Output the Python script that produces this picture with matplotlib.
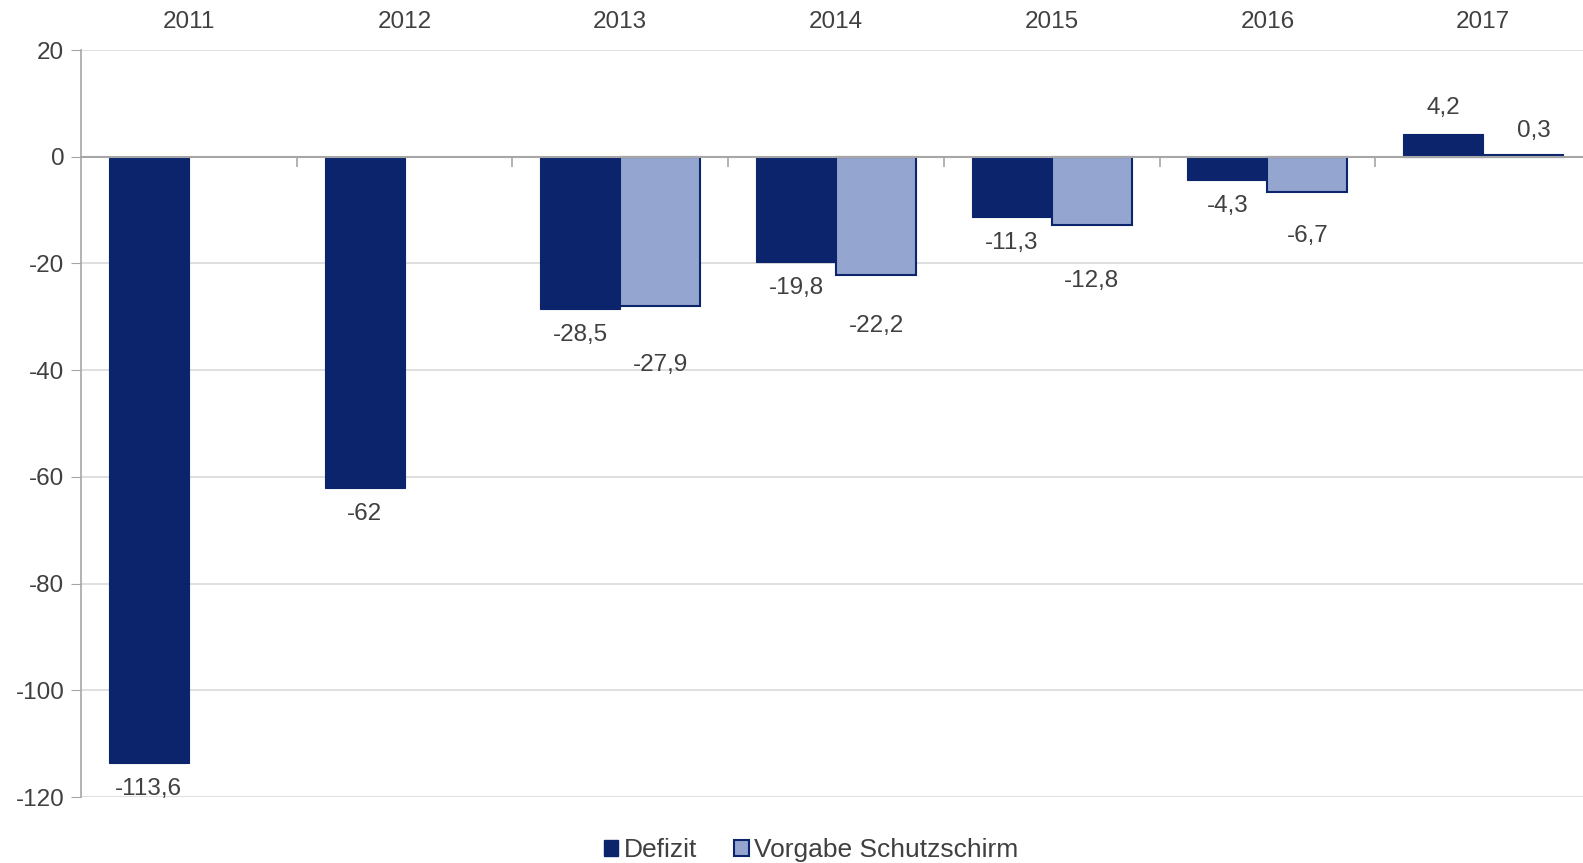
import matplotlib
matplotlib.use("Agg")
import matplotlib.pyplot as plt
import numpy as np
from matplotlib.patches import Patch

years = ["2011", "2012", "2013", "2014", "2015", "2016", "2017"]
defizit = [-113.6, -62.0, -28.5, -19.8, -11.3, -4.3, 4.2]
vorgabe = [None, None, -27.9, -22.2, -12.8, -6.7, 0.3]
# label offsets (pixels) beyond bar end for Vorgabe labels
vorgabe_label_offset = [0, 0, 59, 51, 56, 44, 24]

plt.rcParams['font.family'] = ['Liberation Sans', 'DejaVu Sans']
plt.rcParams['axes.unicode_minus'] = False
DARK = "#0B246B"
LIGHT = "#94A5CF"
TXT = "#404040"

W, H = 1583, 863
fig = plt.figure(figsize=(W / 100, H / 100), dpi=100)
left, right, top, bottom = 81, 1591, 50, 797
ax = fig.add_axes([left / W, 1 - bottom / H, (right - left) / W, (bottom - top) / H])

x = np.arange(len(years))
bw = 0.371
dv = np.array(defizit)
ax.bar(x - bw / 2, dv, width=bw, color=DARK, edgecolor=DARK, linewidth=0.8, zorder=2)
vx = [i for i, v in enumerate(vorgabe) if v is not None]
vv = [vorgabe[i] for i in vx]
ax.bar(np.array(vx) + bw / 2, vv, width=bw, color=LIGHT, edgecolor=DARK, linewidth=1.5, zorder=2)

ax.set_xlim(-0.5, len(years) - 0.5)
ax.set_ylim(-120, 20)
ax.set_yticks(np.arange(-120, 21, 20))
ax.yaxis.grid(True, color="#D9D9D9", linewidth=1.2, zorder=0)
ax.set_axisbelow(True)
ax.tick_params(axis='y', length=7, color="#A6A6A6", labelsize=17.5, labelcolor=TXT, pad=5)

for s in ['top', 'right']:
    ax.spines[s].set_visible(False)
ax.spines['left'].set_color("#A6A6A6")
ax.spines['left'].set_linewidth(1.2)
ax.spines['bottom'].set_position(('data', 0))
ax.spines['bottom'].set_color("#A6A6A6")
ax.spines['bottom'].set_linewidth(1.5)
ax.spines['bottom'].set_zorder(3)

ax.set_xticks(x)
ax.set_xticklabels(years)
ax.set_xticks(np.arange(0.5, len(years) - 0.5, 1), minor=True)
ax.tick_params(axis='x', which='major', bottom=False, top=False, labelbottom=False,
               labeltop=True, labelsize=17.5, labelcolor=TXT, pad=9)
ax.tick_params(axis='x', which='minor', bottom=True, top=False, length=7,
               color="#A6A6A6", width=1.2, direction='out')

def fmt(v):
    return ("%g" % v).replace(".", ",")

for i, v in enumerate(defizit):
    off = 26 * 0.72
    ax.annotate(fmt(v), (x[i] - bw / 2, v), xytext=(0, -off if v < 0 else off),
                textcoords='offset points', ha='center', va='center', fontsize=17.5, color=TXT)
for i, v in enumerate(vorgabe):
    if v is None:
        continue
    off = vorgabe_label_offset[i] * 0.72
    ax.annotate(fmt(v), (x[i] + bw / 2 + (0.05 if v > 0 else 0.0), v), xytext=(0, -off if v < 0 else off),
                textcoords='offset points', ha='center', va='center', fontsize=17.5, color=TXT)

handles = [Patch(facecolor=DARK, edgecolor=DARK), Patch(facecolor=LIGHT, edgecolor=DARK, linewidth=1.5)]
fig.legend(handles, ["Defizit", "Vorgabe Schutzschirm"], loc='center',
           bbox_to_anchor=(811 / W, 1 - 850 / H), ncol=2, frameon=False,
           fontsize=19, labelcolor=TXT, handlelength=0.55, handleheight=0.55,
           handletextpad=0.2, columnspacing=1.4)

fig.savefig("out.png", dpi=100)
